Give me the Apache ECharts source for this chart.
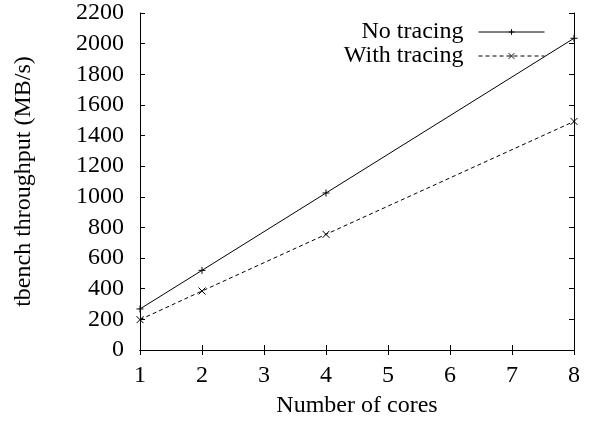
<!DOCTYPE html>
<html><head><meta charset="utf-8">
<script src="https://cdn.jsdelivr.net/npm/echarts@6/dist/echarts.min.js"></script>
<style>html,body{margin:0;padding:0;background:#fff}#c{width:595px;height:426px}</style>
</head><body><div id="c"></div>
<script>
var cores = [1, 2, 4, 8];
var noTracing = [268, 520, 1025, 2035];
var withTracing = [198, 385, 755, 1492];
var seriesNames = ['No tracing', 'With tracing'];
var xTicks = [1, 2, 3, 4, 5, 6, 7, 8];
var yTicks = [0, 200, 400, 600, 800, 1000, 1200, 1400, 1600, 1800, 2000, 2200];

var font = 'Liberation Serif';
var plus = 'path://M0,5L10,5M5,0L5,10';
var cross = 'path://M0,0L10,10M10,0L0,10';
function pairs(xs, ys){ return xs.map(function(x,i){return [x, ys[i]];}); }

var chart = echarts.init(document.getElementById('c'), null, {renderer:'canvas'});
var axisCommon = {
  axisLine:{show:true, lineStyle:{color:'#000', width:1}},
  axisTick:{show:true, inside:true, length:5, lineStyle:{color:'#000'}},
  splitLine:{show:false}
};
chart.setOption({
  animation:false,
  backgroundColor:'#fff',
  grid:{left:140, right:21, top:13, bottom:76},
  legend:{
    data:seriesNames, orient:'vertical', right:50, top:20, align:'right',
    itemWidth:66, itemHeight:7, itemGap:0, padding:0,
    lineStyle:{width:1},
    itemStyle:{borderWidth:1, color:'rgba(0,0,0,0)', borderColor:'#000'},
    textStyle:{fontFamily:font, fontSize:24, color:'#000', lineHeight:22, padding:[0,10,0,0]}
  },
  xAxis:[
    Object.assign({type:'value', min:1, max:8, interval:1, position:'bottom',
      name:'Number of cores', nameLocation:'middle', nameGap:44,
      nameTextStyle:{fontFamily:font, fontSize:24, color:'#000'},
      axisLabel:{fontFamily:font, fontSize:24, color:'#000', margin:14}}, axisCommon),
    Object.assign({type:'value', min:1, max:8, interval:1, position:'top',
      axisLabel:{show:false}}, axisCommon)
  ],
  yAxis:[
    Object.assign({type:'value', min:0, max:2200, interval:200, position:'left',
      name:'tbench throughput (MB/s)', nameLocation:'middle', nameGap:104,
      nameTextStyle:{fontFamily:font, fontSize:24, color:'#000'},
      axisLabel:{fontFamily:font, fontSize:24, color:'#000', margin:16,
        formatter:function(v){return String(v);}}}, axisCommon),
    Object.assign({type:'value', min:0, max:2200, interval:200, position:'right',
      axisLabel:{show:false}}, axisCommon)
  ],
  series:[
    {name:seriesNames[0], type:'line', data:pairs(cores, noTracing),
      symbol:plus, symbolSize:7, showAllSymbol:true,
      lineStyle:{color:'#000', width:1, type:'solid'},
      itemStyle:{color:'rgba(0,0,0,0)', borderColor:'#000', borderWidth:1}},
    {name:seriesNames[1], type:'line', data:pairs(cores, withTracing),
      symbol:cross, symbolSize:7, showAllSymbol:true,
      lineStyle:{color:'#000', width:1, type:[4,3]},
      itemStyle:{color:'rgba(0,0,0,0)', borderColor:'#000', borderWidth:1}}
  ]
});
</script></body></html>
